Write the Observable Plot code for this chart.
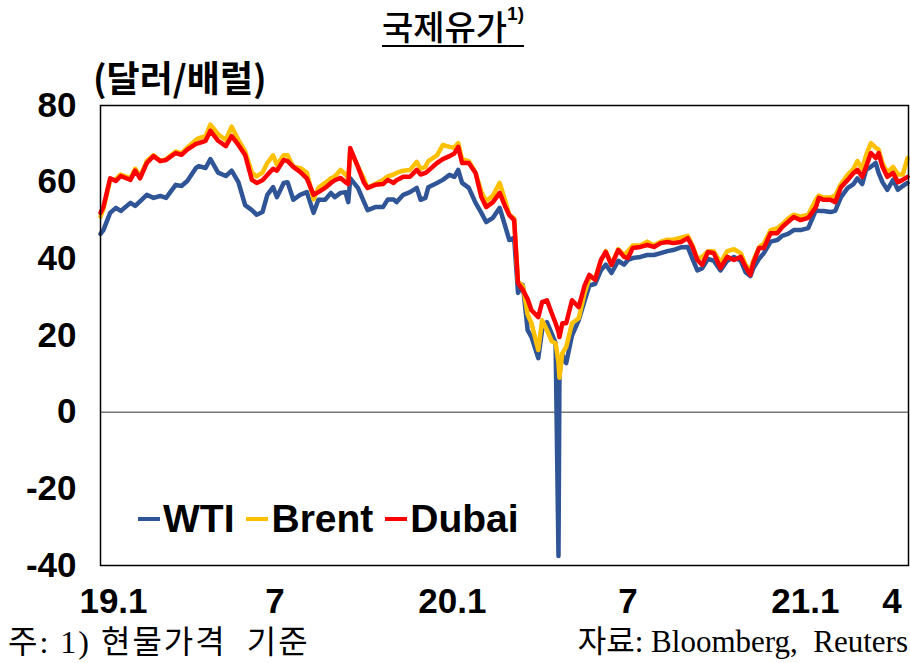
<!DOCTYPE html>
<html><head><meta charset="utf-8">
<script src="https://cdn.jsdelivr.net/npm/d3@7"></script>
<script src="https://cdn.jsdelivr.net/npm/@observablehq/plot@0.6"></script>
<style>
html,body{margin:0;padding:0;background:#fff;}
#wrap{position:relative;width:910px;height:663px;overflow:hidden;background:#fff;}
#chart{position:absolute;left:0;top:0;}
.title{position:absolute;top:1px;left:0;width:906px;text-align:center;font-family:"Noto Sans CJK KR";font-weight:500;font-size:34px;color:#000;}
.title span.u{text-decoration:underline;text-decoration-thickness:2px;text-underline-offset:5px;}
.title sup{font-size:19px;font-family:"Liberation Sans";font-weight:bold;vertical-align:top;position:relative;top:2px;}
.unit{position:absolute;left:93px;top:50px;font-family:"Noto Sans CJK KR";font-weight:700;font-size:36px;color:#000;}
.legend{position:absolute;left:138px;top:497px;display:flex;align-items:center;font-family:"Liberation Sans";font-weight:bold;font-size:39px;color:#000;}
.legend .it{display:flex;align-items:center;margin-right:12px;}
.legend .sw{display:inline-block;width:22px;height:4px;margin-right:3px;}
.foot{position:absolute;top:616px;font-family:"Liberation Serif","Noto Sans CJK KR";font-size:31px;color:#000;white-space:pre;}
</style></head>
<body>
<div id="wrap">
<div id="chart"></div>
<div class="title"><span class="u">국제유가<sup>1)</sup></span></div>
<div class="unit">(달러/배럴)</div>
<div class="legend" id="legend"></div>
<div class="foot" style="left:8px;font-size:32px;letter-spacing:2px;">주: 1) 현물가격  기준</div>
<div class="foot" style="right:2px;">자료: Bloomberg,  Reuters</div>
</div>
<script>
const seriesNames = ["WTI", "Brent", "Dubai"];
const seriesColors = ["#2F5597", "#FFC000", "#FF0000"];
const yTicks = [-40, -20, 0, 20, 40, 60, 80];
const xTickDates = ["2019-01-01", "2019-07-01", "2020-01-01", "2020-07-01", "2021-01-01", "2021-04-01"];
const xTickLabels = ["19.1", "7", "20.1", "7", "21.1", "4"];

const dates = [
"2019-01-01","2019-01-04","2019-01-11","2019-01-17","2019-01-22","2019-02-01","2019-02-06","2019-02-11","2019-02-18","2019-02-25",
"2019-03-04","2019-03-10","2019-03-20","2019-03-26","2019-04-01","2019-04-10","2019-04-13","2019-04-20","2019-04-25","2019-05-03",
"2019-05-11","2019-05-17","2019-05-24","2019-05-31","2019-06-07","2019-06-12","2019-06-18","2019-06-23","2019-06-29","2019-07-03",
"2019-07-10","2019-07-14","2019-07-20","2019-07-27","2019-08-03","2019-08-10","2019-08-15","2019-08-22","2019-08-28","2019-09-01",
"2019-09-07","2019-09-12","2019-09-15","2019-09-17","2019-09-25","2019-10-01","2019-10-05","2019-10-13","2019-10-21","2019-10-26",
"2019-11-01","2019-11-04","2019-11-11","2019-11-18","2019-11-25","2019-11-29","2019-12-04","2019-12-07","2019-12-16","2019-12-22",
"2019-12-29","2020-01-03","2020-01-07","2020-01-11","2020-01-18","2020-01-25","2020-01-31","2020-02-05","2020-02-12","2020-02-19",
"2020-02-25","2020-02-29","2020-03-05","2020-03-09","2020-03-14","2020-03-19","2020-03-23","2020-03-30","2020-04-03","2020-04-08",
"2020-04-13","2020-04-17","2020-04-20","2020-04-21","2020-04-24","2020-04-28","2020-05-04","2020-05-11","2020-05-17","2020-05-22",
"2020-05-28","2020-06-03","2020-06-08","2020-06-14","2020-06-21","2020-06-27","2020-07-01","2020-07-06","2020-07-14","2020-07-21",
"2020-07-28","2020-08-04","2020-08-11","2020-08-17","2020-08-25","2020-09-01","2020-09-06","2020-09-11","2020-09-16","2020-09-22",
"2020-09-28","2020-10-05","2020-10-12","2020-10-19","2020-10-26","2020-10-31","2020-11-05","2020-11-08","2020-11-14","2020-11-19",
"2020-11-26","2020-12-03","2020-12-08","2020-12-14","2020-12-20","2020-12-27","2021-01-04","2021-01-12","2021-01-15","2021-01-20",
"2021-01-27","2021-02-01","2021-02-07","2021-02-14","2021-02-20","2021-02-24","2021-03-01","2021-03-05","2021-03-10","2021-03-15",
"2021-03-18","2021-03-22","2021-03-27","2021-04-02","2021-04-07","2021-04-12","2021-04-17"
];

const wti = [
46.5,47.5,52,53.3,52.5,54.6,53.8,55,56.7,55.9,
56.4,55.9,59.3,59,60.3,63.7,64.2,63.7,66,62.5,
61.6,63,60,54,52.7,51.5,52.2,56.7,58.7,56.1,
59.8,60,55.4,56.7,57.4,52,55.4,55.4,57.2,56.1,
57.2,57.4,54.8,61,58.5,55,52.7,53.5,53.5,55.5,
55.5,54.8,56.7,57.4,58.5,55.4,55.9,58.7,59.8,60.6,
61.9,61.4,63.2,59.8,58.5,54.6,52,49.6,50.7,53.3,
48.3,44.9,45.5,31.1,33.2,21.4,19.6,14.1,21.4,23.5,
20.5,18,-37.5,10,15,12.8,20,24,29,33,
33.5,37,38.5,36.3,39.5,38.5,39.7,40.2,40.5,41,
41,41.5,42,42.3,43,43.1,40,37,37.5,40,
39.5,37,39.5,40.5,39.5,36.5,35.5,37.5,40,41.5,
44.5,44.9,46,46.5,47.5,47.5,48,52.7,52.5,52.5,
52.2,52.5,56.1,58.5,59.5,61,59.5,63.2,64,65,
62.4,60,58,60.6,58,59,59.8
];

const brent = [
51,53,60.5,60.8,62,61,63.5,61.5,65.5,67,
65.5,66,68,67.5,69,71,71.5,72,75,72.5,
71,74.5,71,68,62.5,61.5,62.5,65,67,64.5,
67,67,64,63.7,62.5,55.5,58.5,59.8,61,61.5,
63.2,62,61,68.4,64,61,58.5,59.5,60.6,61.5,
62,62.4,63,63.2,65.3,63.5,64,65.5,67,69.7,
69.2,69,70.2,66,65.5,62.5,57.5,55,56.5,59.8,
55,51.5,50.5,34,33,25.5,23.2,16.2,24,21.4,
18.5,18,13,9,15.4,17,23.2,24.5,31,35,
35,39.5,42,38.5,42.5,41,42,43.5,43.5,44.5,
43.5,44.5,45,45,45.5,46,43.5,40,40.5,42,
42,39,42,42.5,41.5,38.5,37,39.5,43,44,
47.5,48,49,50.5,51.5,51,51.5,55.5,56.5,56,
56,56.5,59.5,62,63.5,65.5,63.5,67,70.2,69,
68.5,65,62.5,64,62,62,66.3
];

const dubai = [
52,53.5,61,60.3,61.6,60.6,63,61,65,66.8,
65.5,65.8,67.6,67.1,68.5,70,70.2,70.8,73.4,70.8,
69.4,72,69.7,67.1,60.6,59.8,60.5,61.9,63.5,63,
65.8,65.5,64,62.7,61,56.7,57.4,58.5,59.8,60.5,
61.1,60,59.5,68.9,64,60,58.5,59.3,59.5,60.6,
59.8,60.5,61.4,61.4,63.2,62,62.4,63,65,66,
66.8,67.5,69.2,65,65,62.4,56.1,53.5,54.8,57.2,
53.5,51.4,50.1,33.7,31.9,29.5,26.6,24.8,28.7,29.2,
25.8,23.2,21,19.6,23.2,23.2,29.2,27.4,33,35.8,
34.5,39.7,41.8,38.4,42.3,40.5,40.2,42.8,43.1,43.6,
43.1,44.1,44.4,44.1,44.4,45.4,43.1,39.7,38.4,41.8,
41.5,37.6,40.5,39.7,40.5,37.9,35.8,38.9,42.8,42.8,
46.7,46.7,48.3,49.6,50.9,50.1,50.7,53.5,55.9,55.4,
55.4,54.8,58.7,60.6,62.4,63.2,61.4,64,67.6,66.3,
67.6,64,61.4,62.4,60,60.6,61.4
];

const seriesValues = [wti, brent, dubai];
const data = seriesNames.flatMap((name, k) =>
  dates.map((d, i) => ({date: new Date(d + "T00:00:00Z"), value: seriesValues[k][i], name})));

const tickDates = xTickDates.map(d => new Date(d + "T00:00:00Z"));
const labelOf = new Map(tickDates.map((d, i) => [+d, xTickLabels[i]]));

const chart = Plot.plot({
  width: 910, height: 663,
  marginTop: 105, marginBottom: 98, marginLeft: 100, marginRight: 2,
  style: {fontFamily: "Liberation Sans", fontSize: "35px", fontWeight: "bold", color: "#000", background: "transparent"},
  x: {type: "utc", domain: [new Date("2019-01-01T00:00:00Z"), new Date("2021-04-18T00:00:00Z")]},
  y: {domain: [-40, 80]},
  color: {domain: seriesNames, range: seriesColors},
  marks: [
    Plot.ruleY([0], {stroke: "#333", strokeWidth: 1}),
    Plot.line(data, {x: "date", y: "value", z: "name", stroke: "name", strokeWidth: 4.5, strokeLinejoin: "round", strokeLinecap: "round"}),
    Plot.frame({stroke: "#000", strokeWidth: 1.5}),
    Plot.axisY({ticks: yTicks, tickSize: 0, tickPadding: 24, tickFormat: d => String(d), label: null}),
    Plot.axisX({ticks: tickDates.slice(0, 1), tickSize: 0, tickPadding: 23, dx: 13, tickFormat: d => labelOf.get(+d), label: null}),
    Plot.axisX({ticks: tickDates.slice(1), tickSize: 0, tickPadding: 23, tickFormat: d => labelOf.get(+d), label: null})
  ]
});
document.getElementById("chart").appendChild(chart);

const legend = document.getElementById("legend");
seriesNames.forEach((n, i) => {
  const it = document.createElement("div");
  it.className = "it";
  const sw = document.createElement("span");
  sw.className = "sw";
  sw.style.background = seriesColors[i];
  const tx = document.createElement("span");
  tx.textContent = n;
  it.appendChild(sw); it.appendChild(tx);
  legend.appendChild(it);
});
</script>
</body></html>
